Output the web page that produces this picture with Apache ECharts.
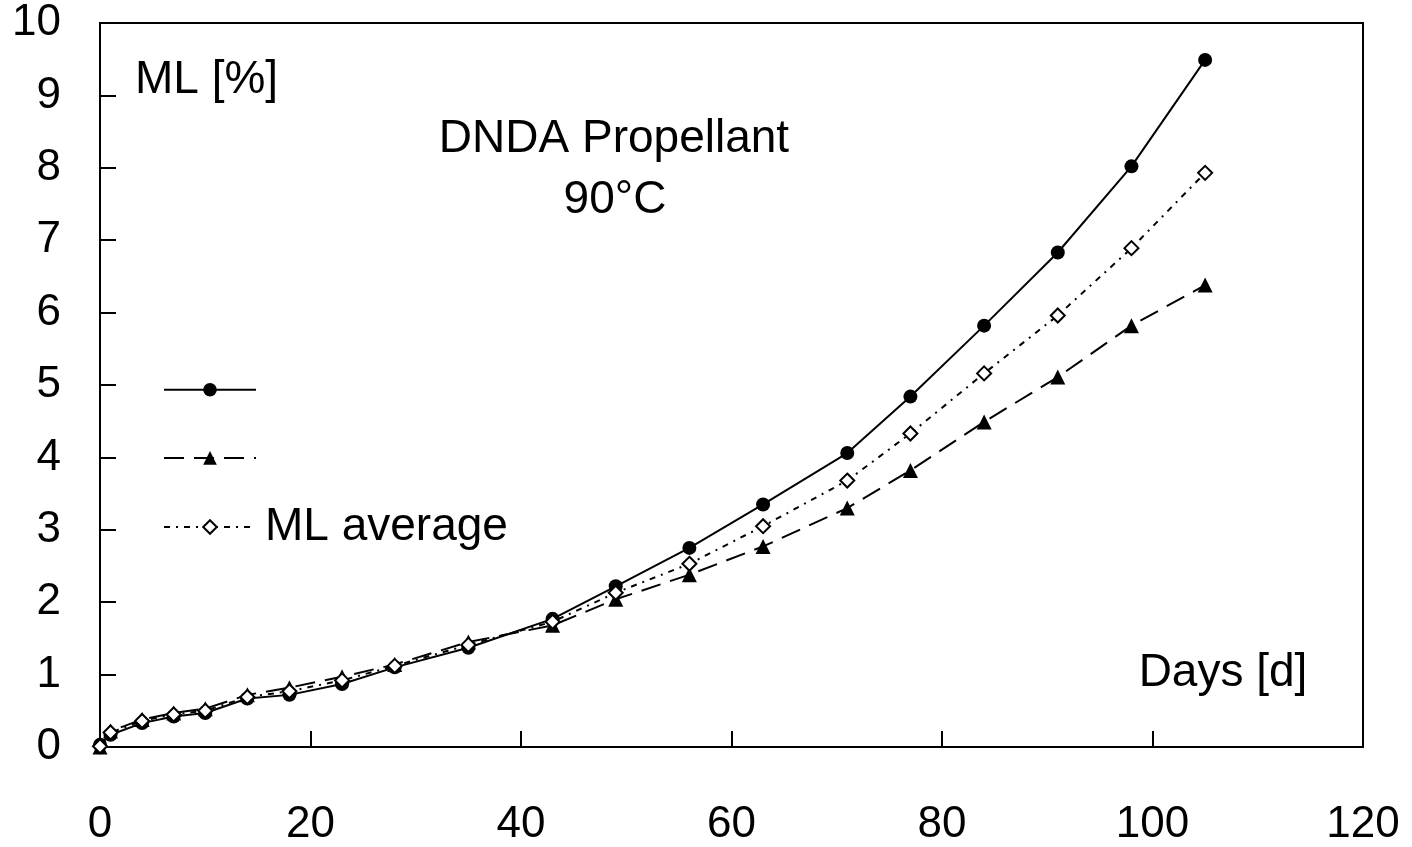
<!DOCTYPE html>
<html>
<head>
<meta charset="utf-8">
<script src="https://cdn.jsdelivr.net/npm/echarts@6/dist/echarts.min.js"></script>
<style>
html,body{margin:0;padding:0;background:#fff;}
#chart{width:1412px;height:847px;}
</style>
</head>
<body>
<div id="chart"></div>
<script>
const days = [0, 1, 4, 7, 10, 14, 18, 23, 28, 35, 43, 49, 56, 63, 71, 77, 84, 91, 98, 105];
const ml1 = [0.03, 0.17, 0.33, 0.42, 0.47, 0.67, 0.72, 0.87, 1.10, 1.37, 1.77, 2.22, 2.75, 3.35, 4.06, 4.84, 5.82, 6.83, 8.02, 9.49];
const ml2 = [0.00, 0.22, 0.38, 0.47, 0.53, 0.72, 0.82, 0.97, 1.14, 1.45, 1.68, 2.04, 2.38, 2.77, 3.30, 3.82, 4.49, 5.11, 5.82, 6.38];
const mlAvg = [0.01, 0.20, 0.36, 0.45, 0.50, 0.69, 0.77, 0.92, 1.12, 1.41, 1.73, 2.13, 2.53, 3.05, 3.68, 4.33, 5.16, 5.96, 6.89, 7.93];
const xTicks = [0, 20, 40, 60, 80, 100, 120];
const yTicks = [0, 1, 2, 3, 4, 5, 6, 7, 8, 9, 10];
const seriesNames = ['ML 1', 'ML 2', 'ML average'];

const pairs = (ys) => days.map((d, i) => [d, ys[i]]);
const FONT = '"Liberation Sans", Arial, sans-serif';

const chart = echarts.init(document.getElementById('chart'), null, {renderer: 'canvas'});
chart.setOption({
  animation: false,
  backgroundColor: '#fff',
  grid: {left: 100, top: 23, right: 49, bottom: 95, show: true, borderColor: '#000', borderWidth: 2, backgroundColor: 'transparent'},
  xAxis: {
    type: 'value', min: xTicks[0], max: xTicks[xTicks.length - 1], interval: 20,
    axisLine: {lineStyle: {color: '#000', width: 2}},
    axisTick: {inside: true, length: 16, lineStyle: {color: '#000', width: 2}},
    axisLabel: {color: '#000', fontSize: 44, fontFamily: FONT, margin: 56},
    splitLine: {show: false}
  },
  yAxis: {
    type: 'value', min: yTicks[0], max: yTicks[yTicks.length - 1], interval: 1,
    axisLine: {lineStyle: {color: '#000', width: 2}},
    axisTick: {inside: true, length: 16, lineStyle: {color: '#000', width: 2}},
    axisLabel: {color: '#000', fontSize: 44, fontFamily: FONT, margin: 39},
    splitLine: {show: false}
  },
  legend: {
    orient: 'vertical', left: 163, top: 383, padding: 0, itemWidth: 92, itemHeight: 17, itemGap: 54.5,
    data: seriesNames,
    formatter: () => '',
    textStyle: {color: '#000', fontSize: 12, fontFamily: FONT, lineHeight: 17, padding: 0},
    selectedMode: false
  },
  series: [
    {name: seriesNames[0], type: 'line', data: pairs(ml1), symbol: 'circle', symbolSize: 14,
     itemStyle: {color: '#000'}, lineStyle: {color: '#000', width: 2, type: 'solid'}, z: 3},
    {name: seriesNames[1], type: 'line', data: pairs(ml2), symbol: 'triangle', symbolSize: 15,
     itemStyle: {color: '#000'}, lineStyle: {color: '#000', width: 2, type: [20, 10]}, z: 2},
    {name: seriesNames[2], type: 'line', data: pairs(mlAvg), symbol: 'diamond', symbolSize: 14,
     itemStyle: {color: '#fff', borderColor: '#000', borderWidth: 2}, lineStyle: {color: '#000', width: 2, type: [6, 6, 2, 6]}, z: 4}
  ],
  graphic: [
    {type: 'text', x: 135, y: 80, style: {text: 'ML [%]', font: '46px ' + FONT, fill: '#000', textVerticalAlign: 'middle'}},
    {type: 'text', x: 614, y: 139, style: {text: 'DNDA Propellant', font: '46px ' + FONT, fill: '#000', textAlign: 'center', textVerticalAlign: 'middle'}},
    {type: 'text', x: 615, y: 200, style: {text: '90°C', font: '46px ' + FONT, fill: '#000', textAlign: 'center', textVerticalAlign: 'middle'}},
    {type: 'text', x: 1223, y: 673, style: {text: 'Days [d]', font: '46px ' + FONT, fill: '#000', textAlign: 'center', textVerticalAlign: 'middle'}},
    {type: 'text', x: 265, y: 527, style: {text: 'ML average', font: '46px ' + FONT, fill: '#000', textVerticalAlign: 'middle'}}
  ]
});
</script>
</body>
</html>
